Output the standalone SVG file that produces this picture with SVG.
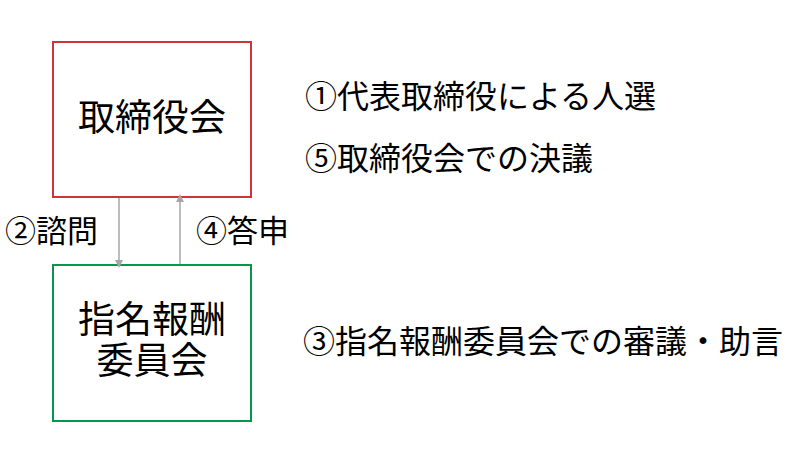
<svg xmlns="http://www.w3.org/2000/svg" width="800" height="450" viewBox="0 0 800 450">
<defs>
<marker id="ah" markerWidth="8" markerHeight="8" refX="4" refY="4" orient="auto" markerUnits="userSpaceOnUse">
<path d="M0,0 L8,4 L0,8 Z" fill="#a6a6a6"/>
</marker>
<style>
text{font-family:"Noto Sans CJK JP","Noto Sans",sans-serif;fill:#000;}
.box{fill:#fff;stroke-width:2;}
.c{stroke:#a6a6a6;stroke-width:1.5;fill:none;marker-end:url(#ah);}
</style>
</defs>
<rect width="800" height="450" fill="#fff"/>
<g id="board">
<rect class="box" x="53" y="42" width="198" height="155" stroke="#d13438"/>
<text x="152" y="115" font-size="37" text-anchor="middle" dominant-baseline="central">取締役会</text>
</g>
<g id="committee">
<rect class="box" x="53" y="265" width="198" height="156" stroke="#00994d"/>
<text x="152" y="317" font-size="37" text-anchor="middle" dominant-baseline="central">指名報酬</text>
<text x="152" y="358" font-size="37" text-anchor="middle" dominant-baseline="central">委員会</text>
</g>
<g id="connectors">
<line class="c" x1="119" y1="198" x2="119" y2="264"/>
<line class="c" x1="180" y1="264" x2="180" y2="198"/>
</g>
<g id="labels">
<text x="5" y="228" font-size="31" dominant-baseline="central">②諮問</text>
<text x="196" y="228" font-size="31" dominant-baseline="central">④答申</text>
<text x="305" y="94" font-size="32" dominant-baseline="central">①代表取締役による人選</text>
<text x="305" y="156" font-size="32" dominant-baseline="central">⑤取締役会での決議</text>
<text x="303" y="339" font-size="32" dominant-baseline="central">③指名報酬委員会での審議・助言</text>
</g>
</svg>
